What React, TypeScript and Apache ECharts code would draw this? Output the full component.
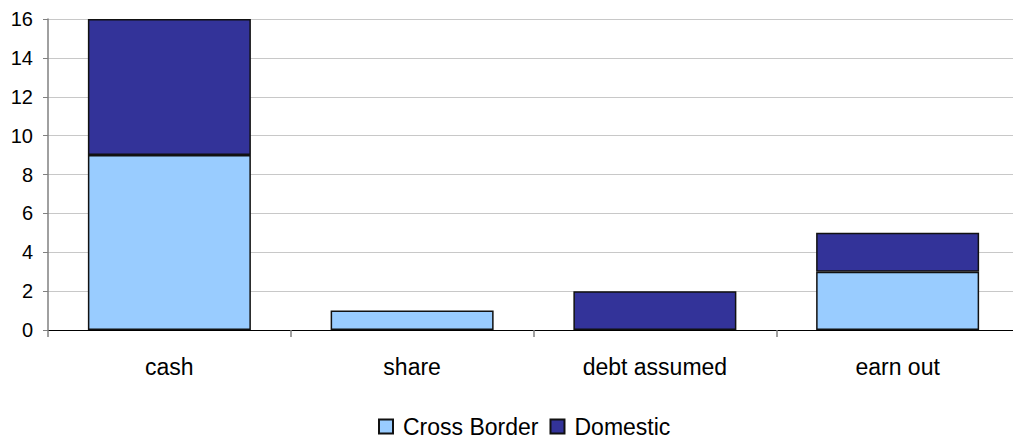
import React, { useEffect, useRef } from "react";
import * as echarts from "echarts";

const categories = ["cash", "share", "debt assumed", "earn out"];
const crossBorder = [9, 1, 0, 3];
const domestic = [7, 0, 2, 2];
const yTicks = { min: 0, max: 16, interval: 2 };

export default function App() {
  const ref = useRef<HTMLDivElement>(null);
  useEffect(() => {
    if (!ref.current) return;
    const chart = echarts.init(ref.current, null, { renderer: "svg" });
    const font = "'Liberation Sans', Arial, sans-serif";
    const toData = (arr: number[]) => arr.map((v) => (v === 0 ? "-" : v));
    chart.setOption({
      animation: false,
      textStyle: { fontFamily: font },
      grid: { left: 48, top: 19, width: 971, height: 311, containLabel: false },
      legend: {
        left: 378,
        top: 415,
        padding: 0,
        itemWidth: 14,
        itemHeight: 14,
        itemGap: 11,
        icon: "rect",
        textStyle: { fontSize: 23, color: "#000", fontFamily: font, padding: [0, 0, 0, 5] },
        data: ["Cross Border", "Domestic"],
      },
      xAxis: {
        type: "category",
        data: categories,
        axisLine: { lineStyle: { color: "#000", width: 1 } },
        axisTick: { show: true, length: 7, lineStyle: { color: "#808080", width: 1.5 } },
        axisLabel: { fontSize: 23, color: "#000", margin: 25, fontFamily: font },
      },
      yAxis: {
        type: "value",
        min: yTicks.min,
        max: yTicks.max,
        interval: yTicks.interval,
        axisLine: { show: true, lineStyle: { color: "#808080", width: 1.5 } },
        axisTick: { show: true, length: 5, lineStyle: { color: "#808080" } },
        axisLabel: { fontSize: 20, color: "#000", margin: 15, fontFamily: font },
        splitLine: { lineStyle: { color: "#c8c8c8", width: 1 } },
      },
      series: [
        {
          name: "Cross Border",
          type: "bar",
          stack: "total",
          barWidth: 163,
          data: toData(crossBorder),
          itemStyle: { color: "#99CCFF", borderColor: "#111", borderWidth: 1.5 },
        },
        {
          name: "Domestic",
          type: "bar",
          stack: "total",
          barWidth: 163,
          data: toData(domestic),
          itemStyle: { color: "#333399", borderColor: "#111", borderWidth: 1.5 },
        },
      ],
    });
    return () => chart.dispose();
  }, []);
  return (
    <div
      style={{ position: "fixed", left: 0, top: 0, width: 1013, height: 440, overflow: "hidden", background: "#fff" }}
    >
      <div ref={ref} style={{ width: 1022, height: 440 }} />
    </div>
  );
}
